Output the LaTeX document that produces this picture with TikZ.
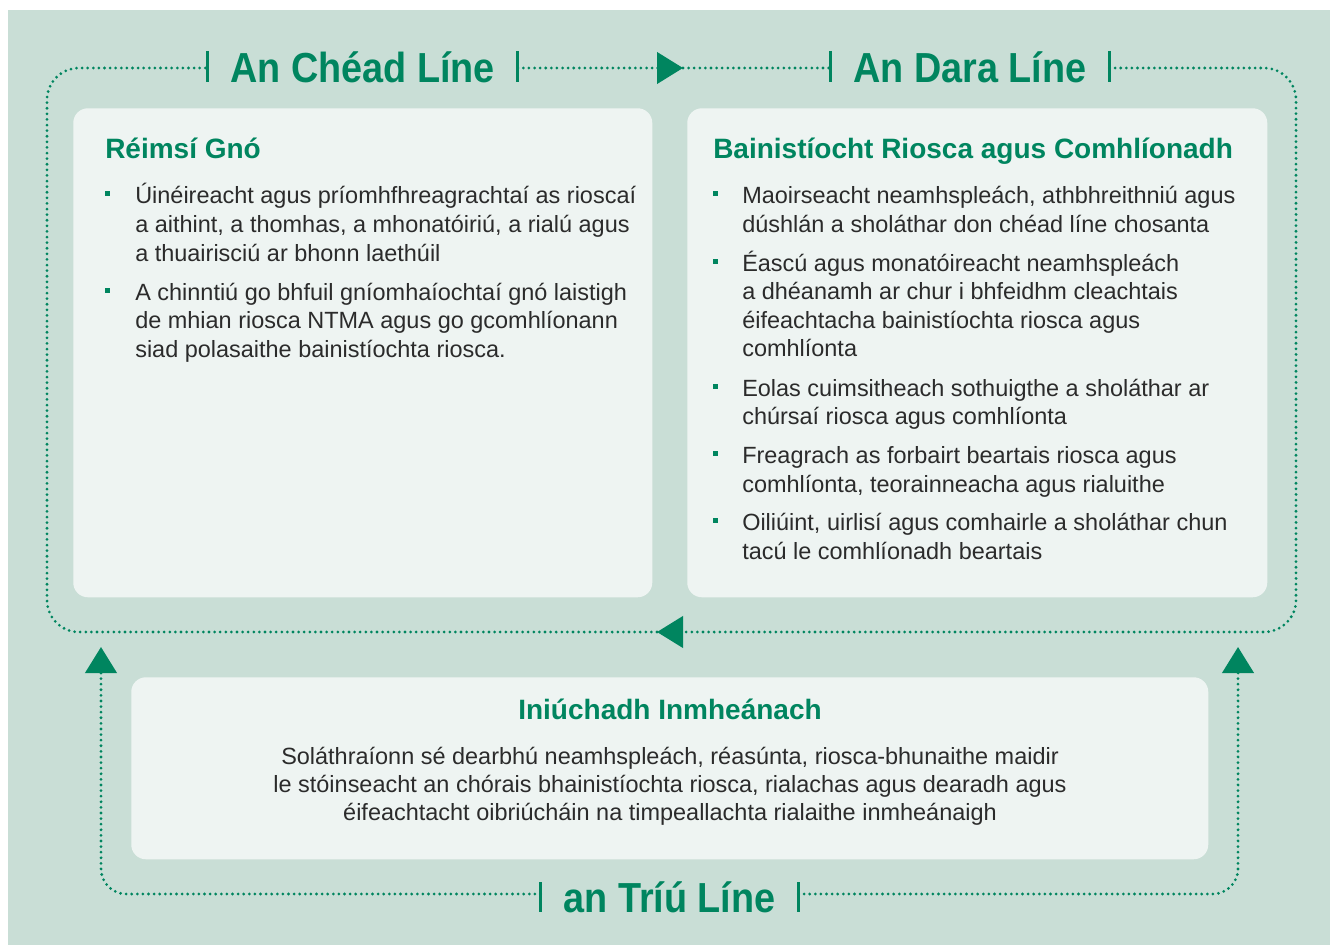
\documentclass[tikz,border=0pt]{standalone}
\usepackage{fontspec}
\setmainfont{Liberation Sans}
\newfontfamily\linefont{Liberation Sans}[FakeStretch=0.9]
\usetikzlibrary{arrows.meta}

\definecolor{bgmint}{HTML}{C9DED6}
\definecolor{panelfill}{HTML}{EEF4F2}
\definecolor{ntmagreen}{HTML}{00855F}
\definecolor{bodyink}{HTML}{2B2B2B}

\tikzset{
  dotline/.style={ntmagreen, line width=2.3pt, line cap=round, dash pattern=on 0pt off 4.2pt},
  tickline/.style={ntmagreen, line width=1.9pt},
  flowtip/.style={-{Triangle[length=19.5pt,width=23.5pt]}},
  panel/.style={fill=panelfill, rounded corners=11pt, anchor=north west, inner sep=0pt},
  linetitle/.style={font=\linefont\bfseries\fontsize{31.5}{31.5}\selectfont, text=ntmagreen, inner xsep=17pt, inner ysep=0pt, anchor=base},
  boxhead/.style={font=\bfseries\fontsize{21}{21}\selectfont, text=ntmagreen, inner sep=0pt},
  bodyline/.style={font=\fontsize{17.6}{21}\selectfont, text=bodyink, inner sep=0pt},
  bulletsq/.style={fill=ntmagreen, minimum size=4pt, inner sep=0pt},
}

\begin{document}
\begin{tikzpicture}[x=0.75pt, y=-0.75pt]
    % --- canvas ---
    \useasboundingbox (0,0) rectangle (1330,945);
    \fill[white] (0,0) rectangle (1330,945);
    \fill[bgmint] (8,10) rectangle (1330,945);

    % 1. panels
    \node[panel, minimum width=434.25pt, minimum height=366.75pt] (gno) at (73,108) {};
    \node[panel, minimum width=435pt, minimum height=366.75pt] (riosca) at (687,108) {};
    \node[panel, minimum width=807.75pt, minimum height=136.5pt] (iniuchadh) at (131,677) {};

    % 2. line titles
    \node[linetitle] (t1) at (362.5,83) {An Chéad Líne};
    \node[linetitle] (t2) at (970,83) {An Dara Líne};
    \node[linetitle] (t3) at (669.5,912) {an Tríú Líne};

    % ticks either side of each title
    \foreach \t/\ya/\yb in {t1/51/82, t2/51/82, t3/882/912} {
        \draw[tickline] (\t.west |- 0,\ya) -- (\t.west |- 0,\yb);
        \draw[tickline] (\t.east |- 0,\ya) -- (\t.east |- 0,\yb);
    }

    % 3. dotted loop between first and second line
    \coordinate (fwd) at (683,68);
    \coordinate (back) at (657,632);
    \draw[dotline, flowtip] (t1.east |- fwd) -- (fwd);
    \draw[dotline] (fwd) -- (t2.west |- fwd);
    \draw[dotline, flowtip, rounded corners=24pt] (t2.east |- fwd) -| (1296,632) -- (back);
    \draw[dotline, rounded corners=24pt] (back) -| (47,68) -- (t1.west |- fwd);

    % 4. third line feeding up into the loop
    \coordinate (upL) at (101,647);
    \coordinate (upR) at (1238,647);
    \draw[dotline, flowtip, rounded corners=19pt] (t3.west |- 0,894) -| (upL);
    \draw[dotline, flowtip, rounded corners=19pt] (t3.east |- 0,894) -| (upR);

    % 5. panel headings
    \node[boxhead, anchor=base west] (gnohead) at (105,159) {Réimsí Gnó};
    \node[boxhead, anchor=base west] (rioscahead) at (713,159) {Bainistíocht Riosca agus Comhlíonadh};
    \node[boxhead, anchor=base] (iniuchadhhead) at (670,719) {Iniúchadh Inmheánach};

    % 6. bullets
    \foreach \x/\y [count=\i] in {107.5/203, 107.5/300, 715.5/203, 715.5/271, 715.5/396, 715.5/463, 715.5/530}
        \node[bulletsq] (dot\i) at (\x,\y-9.5) {};

    % 7. body text
    \foreach \y/\txt [count=\i] in {
        203/{Úinéireacht agus príomhfhreagrachtaí as rioscaí},
        232/{a aithint, a thomhas, a mhonatóiriú, a rialú agus},
        261/{a thuairisciú ar bhonn laethúil},
        300/{A chinntiú go bhfuil gníomhaíochtaí gnó laistigh},
        328/{de mhian riosca NTMA agus go gcomhlíonann},
        357/{siad polasaithe bainistíochta riosca.}}
        \node[bodyline, anchor=base west] (gno\i) at (135,\y) {\txt};

    \foreach \y/\txt [count=\i] in {
        203/{Maoirseacht neamhspleách, athbhreithniú agus},
        232/{dúshlán a sholáthar don chéad líne chosanta},
        271/{Éascú agus monatóireacht neamhspleách},
        299/{a dhéanamh ar chur i bhfeidhm cleachtais},
        328/{éifeachtacha bainistíochta riosca agus},
        356/{comhlíonta},
        396/{Eolas cuimsitheach sothuigthe a sholáthar ar},
        424/{chúrsaí riosca agus comhlíonta},
        463/{Freagrach as forbairt beartais riosca agus},
        492/{comhlíonta, teorainneacha agus rialuithe},
        530/{Oiliúint, uirlisí agus comhairle a sholáthar chun},
        559/{tacú le comhlíonadh beartais}}
        \node[bodyline, anchor=base west] (riosca\i) at (742,\y) {\txt};

    \foreach \y/\txt [count=\i] in {
        764/{Soláthraíonn sé dearbhú neamhspleách, réasúnta, riosca-bhunaithe maidir},
        792/{le stóinseacht an chórais bhainistíochta riosca, rialachas agus dearadh agus},
        820/{éifeachtacht oibriúcháin na timpeallachta rialaithe inmheánaigh}}
        \node[bodyline, anchor=base] (iniuchadh\i) at (670,\y) {\txt};

\end{tikzpicture}
\end{document}
